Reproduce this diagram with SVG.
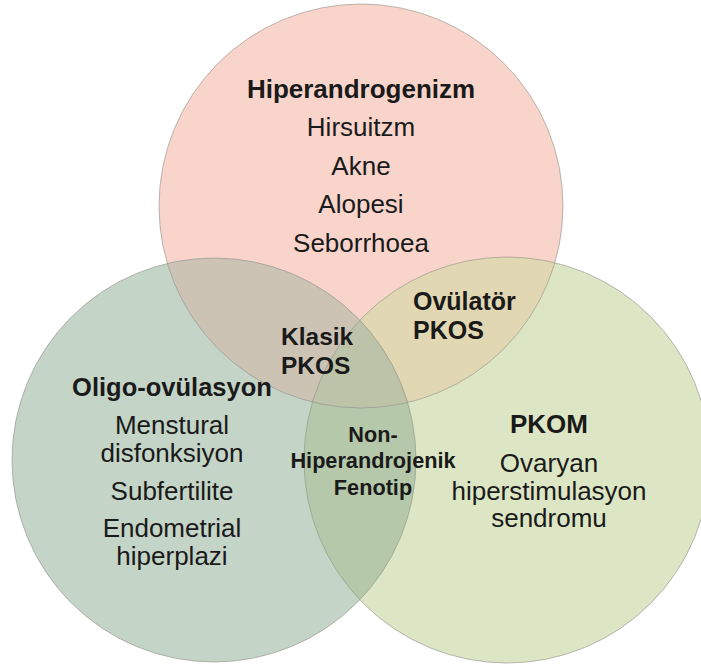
<svg xmlns="http://www.w3.org/2000/svg" width="701" height="669" viewBox="0 0 701 669">
<style>
.t{font-family:"Liberation Sans",Arial,sans-serif;fill:#1a1a1a}
.b{font-weight:bold}
.edge{fill:none;stroke:#8f8f8a;stroke-opacity:0.6;stroke-width:1}
</style>
<defs>
<clipPath id="cT"><circle cx="361" cy="206" r="202"/></clipPath>
<clipPath id="cL"><circle cx="214" cy="460" r="202"/></clipPath>
<clipPath id="cR"><circle cx="507" cy="460" r="203"/></clipPath>
</defs>
<rect width="701" height="669" fill="#ffffff"/>
<g id="circles">
<g id="hiperandrogenizm-circle"><circle cx="361" cy="206" r="202" fill="#F8D4CB"/></g>
<g id="oligo-circle"><circle cx="214" cy="460" r="202" fill="#C4D4C6"/></g>
<g id="pkom-circle"><circle cx="507" cy="460" r="203" fill="#DCE6C4"/></g>
<g id="overlap-top-left"><circle cx="214" cy="460" r="202" fill="#CDC3B5" clip-path="url(#cT)"/></g>
<g id="overlap-top-right"><circle cx="507" cy="460" r="203" fill="#E1D7B2" clip-path="url(#cT)"/></g>
<g id="overlap-left-right"><circle cx="507" cy="460" r="203" fill="#B5C8AA" clip-path="url(#cL)"/></g>
<g id="overlap-center" clip-path="url(#cT)"><circle cx="507" cy="460" r="203" fill="#BCC3A8" clip-path="url(#cL)"/></g>
<circle class="edge" cx="361" cy="206" r="202"/>
<circle class="edge" cx="214" cy="460" r="202"/>
<circle class="edge" cx="507" cy="460" r="203"/>
</g>
<g id="top-text" class="t" text-anchor="middle" font-size="26">
<text class="b" x="361" y="98">Hiperandrogenizm</text>
<text x="361" y="136">Hirsuitzm</text>
<text x="361" y="175">Akne</text>
<text x="361" y="213">Alopesi</text>
<text x="361" y="252">Seborrhoea</text>
</g>
<g id="left-text" class="t" text-anchor="middle" font-size="26">
<text class="b" x="172" y="396" font-size="25.5">Oligo-ovülasyon</text>
<text x="172" y="434">Menstural</text>
<text x="172" y="462">disfonksiyon</text>
<text x="172" y="500">Subfertilite</text>
<text x="172" y="537">Endometrial</text>
<text x="172" y="565">hiperplazi</text>
</g>
<g id="right-text" class="t" text-anchor="middle" font-size="26">
<text class="b" x="549" y="433">PKOM</text>
<text x="549" y="472">Ovaryan</text>
<text x="549" y="500">hiperstimulasyon</text>
<text x="549" y="527">sendromu</text>
</g>
<g id="klasik" class="t b" font-size="24.5">
<text x="281" y="345">Klasik</text>
<text x="281" y="374">PKOS</text>
</g>
<g id="ovulator" class="t b" font-size="25">
<text x="413" y="310">Ovülatör</text>
<text x="413" y="339">PKOS</text>
</g>
<g id="non-hiper" class="t b" text-anchor="middle" font-size="21.7">
<text x="373" y="442">Non-</text>
<text x="373" y="468">Hiperandrojenik</text>
<text x="373" y="495">Fenotip</text>
</g>
</svg>
